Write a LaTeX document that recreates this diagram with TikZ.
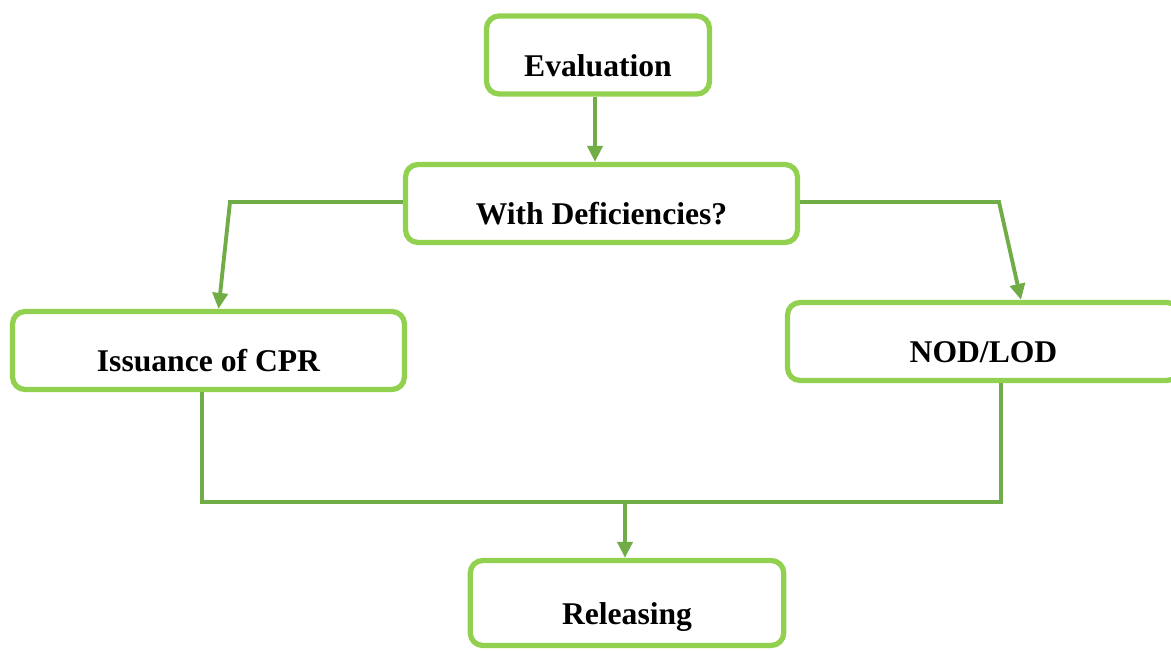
\documentclass[tikz,border=0pt]{standalone}
\usepackage{fontspec}
\setmainfont{Liberation Serif}
\usetikzlibrary{arrows.meta}
\definecolor{boxgreen}{RGB}{146,208,80}
\definecolor{linkgreen}{RGB}{112,173,71}
\begin{document}
\begin{tikzpicture}[x=0.02cm, y=-0.02cm, >={Triangle[length=0.32cm,width=0.3cm]},
    block/.style={rectangle, draw=boxgreen, line width=3pt, fill=white, rounded corners=0.25cm, text centered, font=\fontsize{18}{22}\selectfont\bfseries, text height=0.86cm, text depth=0pt, minimum height=1.56cm},
    line/.style={draw=linkgreen, line width=2.2pt}]
    \useasboundingbox (0,0) rectangle (1171,651);

    \node [block, minimum width=4.46cm] (eval) at (598,55) {Evaluation};
    \node [block, minimum width=7.84cm] (defic) at (601.5,203.5) {With Deficiencies?};
    \node [block, minimum width=7.84cm] (cpr) at (208.5,350.5) {Issuance of CPR};
    \node [block, minimum width=7.84cm] (nod) at (983.5,341.5) {NOD/LOD};
    \node [block, minimum width=6.27cm, minimum height=1.7cm] (rel) at (627,603) {Releasing};

    \coordinate (lk) at (230,202);
    \coordinate (rk) at (999,202);
    \coordinate (jn) at (625,502);

    \path [line, ->] ([xshift=-0.06cm]eval.south) -- ([xshift=-0.06cm]eval.south |- defic.north);
    \path [line, ->] (defic.west |- lk) -- (lk) -- ([xshift=0.2cm]cpr.north);
    \path [line, ->] (defic.east |- rk) -- (rk) -- ([xshift=0.75cm]nod.north);
    \path [line] ([xshift=-0.13cm]cpr.south) -- ([xshift=-0.13cm]cpr.south |- jn) -- ([xshift=0.35cm]nod.south |- jn) -- ([xshift=0.35cm]nod.south);
    \path [line, ->] (jn) -- (jn |- rel.north);
\end{tikzpicture}
\end{document}
